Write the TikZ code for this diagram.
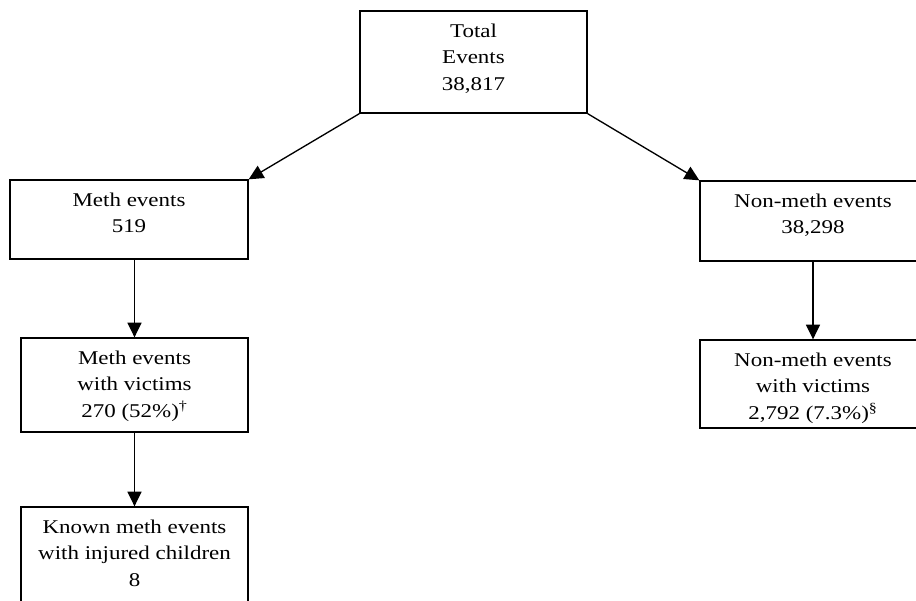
\documentclass[tikz,border=0pt]{standalone}
\usepackage{fontspec}
\setmainfont{Liberation Serif}[FakeStretch=1.18]
\usetikzlibrary{arrows.meta}

% box text: width, height, lines (top aligned)
\newcommand{\evtext}[3]{\parbox[c][#2][t]{#1}{\centering\fontsize{14.6pt}{20pt}\selectfont\vspace*{9.5pt}#3}}

\begin{document}
\begin{tikzpicture}[x=0.75pt, y=-0.75pt,
	evbox/.style={draw, line width=1pt, inner sep=0pt},
	evarrow/.style={-{Triangle[length=11pt, width=10.5pt]}, line width=1pt}]
	\useasboundingbox (0,0) rectangle (916,600);
	% boxes
	\node[evbox] (total) at (473.5,62) {\evtext{170.25pt}{76.5pt}{Total\\Events\\38,817}};
	\node[evbox] (meth) at (129,219.5) {\evtext{178.5pt}{59.25pt}{Meth events\\519}};
	\node[evbox] (nonmeth) at (813,221) {\evtext{169.5pt}{60pt}{Non-meth events\\38,298}};
	\node[evbox] (methvic) at (134.5,385) {\evtext{170.25pt}{70.5pt}{Meth events\\with victims\\270 (52\%)\textsuperscript{\dag}}};
	\node[evbox] (nonvic) at (813,384) {\evtext{169.5pt}{66pt}{Non-meth events\\with victims\\2,792 (7.3\%)\textsuperscript{\S}}};
	\node[evbox] (known) at (134.5,567) {\evtext{170.25pt}{90pt}{Known meth events\\with injured children\\8}};
	% arrows
	\draw[evarrow] (total.south west) -- (meth.north east);
	\draw[evarrow] (total.south east) -- (nonmeth.north west);
	\draw[evarrow] (meth.south -| methvic.north) -- (methvic.north);
	\draw[evarrow] (methvic.south -| known.north) -- (known.north);
	\draw[evarrow] (nonmeth.south) -- (nonvic.north);
\end{tikzpicture}
\end{document}
